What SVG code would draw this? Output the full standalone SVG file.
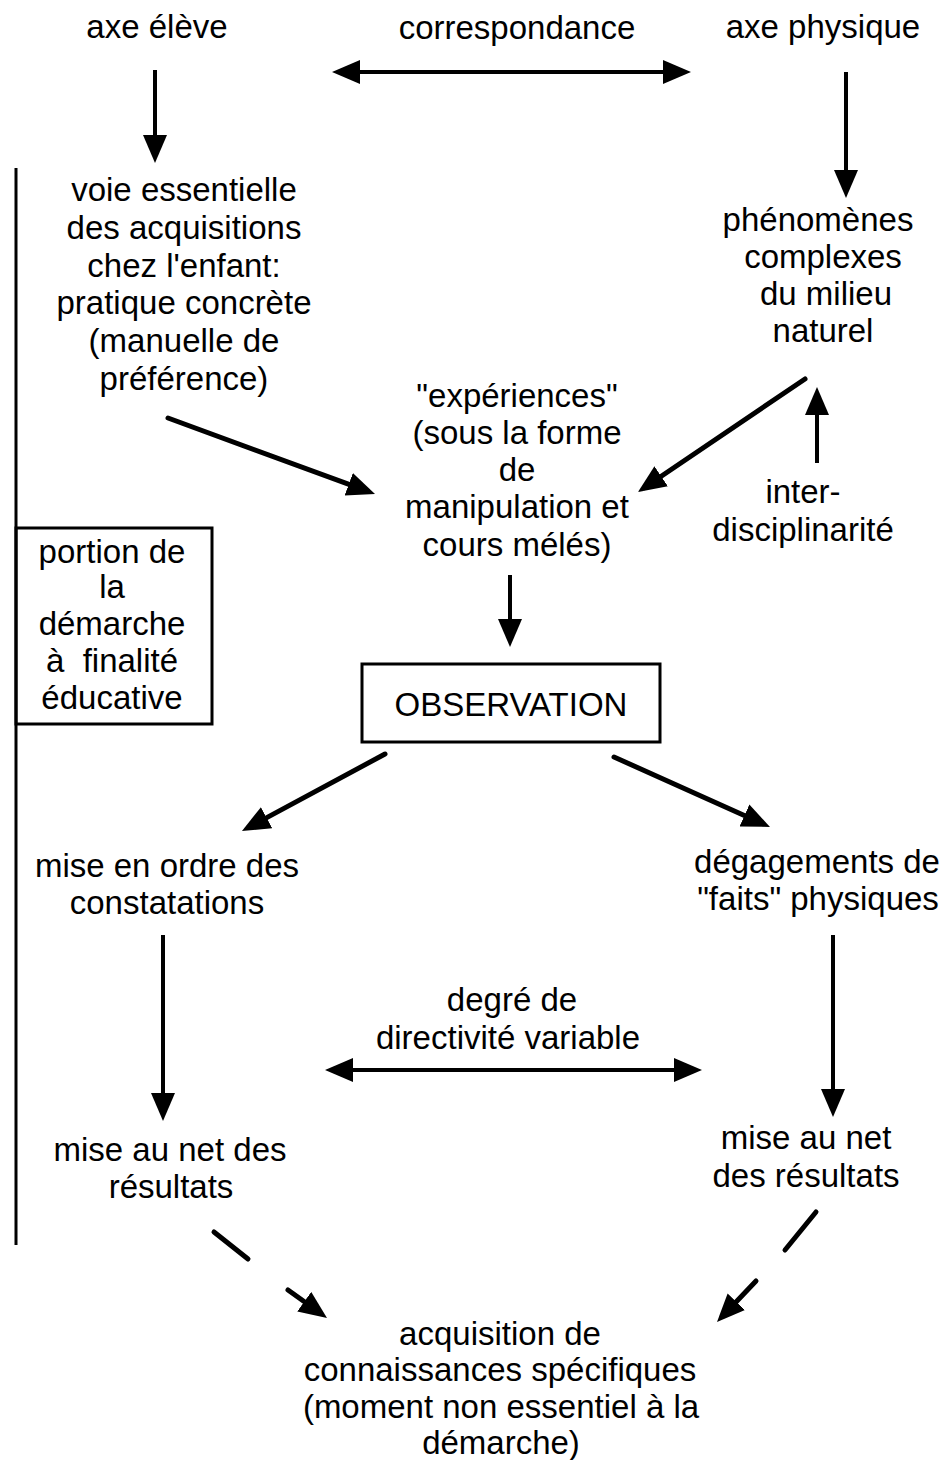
<svg xmlns="http://www.w3.org/2000/svg" width="946" height="1460" viewBox="0 0 946 1460">
<style>
text{font-family:"Liberation Sans",Arial,Helvetica,sans-serif;font-size:33px;fill:#000;text-anchor:middle}
.ln{stroke:#000;stroke-width:4;fill:none;stroke-linecap:butt}
.th{stroke-width:5;stroke-linecap:round}
.a{marker-end:url(#ah)}
.aa{marker-start:url(#ah);marker-end:url(#ah)}
.box{fill:none;stroke:#000;stroke-width:3}
</style>
<defs>
<marker id="ah" markerUnits="userSpaceOnUse" markerWidth="28" markerHeight="26" viewBox="0 0 28 26" refX="20" refY="13" orient="auto-start-reverse">
<path d="M0,1 L28,13 L0,25 z" fill="#000"/>
</marker>
</defs>
<rect width="946" height="1460" fill="#fff"/>

<g id="axe-eleve"><text x="157" y="38">axe élève</text></g>
<g id="correspondance"><text x="517" y="39">correspondance</text></g>
<g id="axe-physique"><text x="823" y="38">axe physique</text></g>

<g id="voie">
<text x="184" y="201">voie essentielle</text>
<text x="184" y="239">des acquisitions</text>
<text x="184" y="277">chez l'enfant:</text>
<text x="184" y="314">pratique concrète</text>
<text x="184" y="352">(manuelle de</text>
<text x="184" y="390">préférence)</text>
</g>

<g id="phenomenes">
<text x="818" y="231">phénomènes</text>
<text x="823" y="268">complexes</text>
<text x="826" y="305">du milieu</text>
<text x="823" y="342">naturel</text>
</g>

<g id="experiences">
<text x="517" y="407">"expériences"</text>
<text x="517" y="444">(sous la forme</text>
<text x="517" y="481">de</text>
<text x="517" y="518">manipulation et</text>
<text x="517" y="556">cours mélés)</text>
</g>

<g id="interdisciplinarite">
<text x="803" y="503">inter-</text>
<text x="803" y="541">disciplinarité</text>
</g>

<g id="portion">
<line class="ln" x1="16" y1="168" x2="16" y2="1245" style="stroke-width:3"/>
<rect class="box" x="16" y="528" width="196" height="196"/>
<text x="112" y="563">portion de</text>
<text x="112" y="598">la</text>
<text x="112" y="635">démarche</text>
<text x="112" y="672" xml:space="preserve">à  finalité</text>
<text x="112" y="709">éducative</text>
</g>

<g id="observation">
<rect class="box" x="362" y="664" width="298" height="78"/>
<text x="511" y="716">OBSERVATION</text>
</g>

<g id="mise-en-ordre">
<text x="167" y="877">mise en ordre des</text>
<text x="167" y="914">constatations</text>
</g>

<g id="degagements">
<text x="817" y="873">dégagements de</text>
<text x="818" y="910">"faits" physiques</text>
</g>

<g id="degre">
<text x="512" y="1011">degré de</text>
<text x="508" y="1049">directivité variable</text>
</g>

<g id="mise-au-net-gauche">
<text x="170" y="1161">mise au net des</text>
<text x="171" y="1198">résultats</text>
</g>

<g id="mise-au-net-droite">
<text x="806" y="1149">mise au net</text>
<text x="806" y="1187">des résultats</text>
</g>

<g id="acquisition">
<text x="500" y="1345">acquisition de</text>
<text x="500" y="1381">connaissances spécifiques</text>
<text x="501" y="1418">(moment non essentiel à la</text>
<text x="501" y="1454">démarche)</text>
</g>

<g id="connectors">
<line class="ln aa" x1="340" y1="72" x2="683" y2="72"/>
<line class="ln a" x1="155" y1="70" x2="155" y2="155"/>
<line class="ln a" x1="846" y1="72" x2="846" y2="190"/>
<line class="ln th a" x1="168" y1="418" x2="367.5" y2="491.2"/>
<line class="ln th a" x1="805" y1="379" x2="644.6" y2="487.5"/>
<line class="ln a" x1="817" y1="463" x2="817" y2="395"/>
<line class="ln a" x1="510" y1="575" x2="510" y2="639"/>
<line class="ln th a" x1="385" y1="754" x2="249" y2="827.2"/>
<line class="ln th a" x1="614" y1="757" x2="762.7" y2="823.7"/>
<line class="ln a" x1="163" y1="935" x2="163" y2="1113"/>
<line class="ln a" x1="833" y1="935" x2="833" y2="1109"/>
<line class="ln aa" x1="333" y1="1070" x2="694" y2="1070"/>
<line class="ln th" x1="214" y1="1232" x2="248" y2="1259"/>
<line class="ln th a" x1="288" y1="1290" x2="320.5" y2="1313.3"/>
<line class="ln th" x1="816" y1="1212" x2="785" y2="1250"/>
<line class="ln th a" x1="756" y1="1281" x2="722.5" y2="1316.2"/>
</g>
</svg>
